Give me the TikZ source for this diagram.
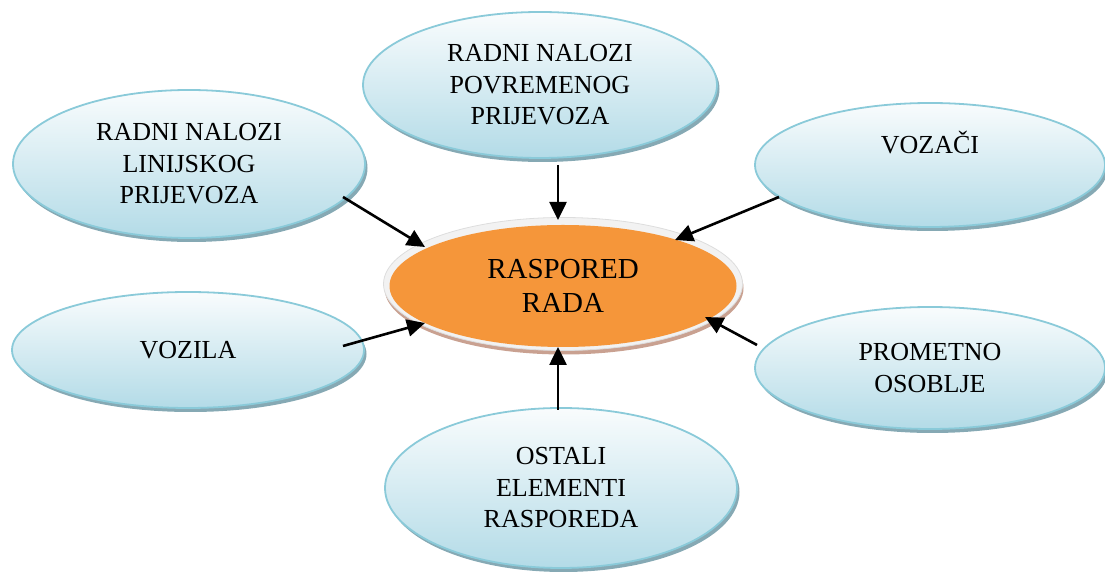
\documentclass[tikz,border=0pt]{standalone}
\usepackage{fontspec}
\setmainfont{Liberation Serif}
\usetikzlibrary{arrows.meta,calc,shapes.geometric,shadows}
\definecolor{outTop}{HTML}{F9FCFD}
\definecolor{outBot}{HTML}{B3DBE7}
\definecolor{outEdge}{HTML}{8ACAD9}
\definecolor{outShadow}{HTML}{86A9B4}
\definecolor{orangeFill}{HTML}{F5963A}
\definecolor{ringFill}{HTML}{F2F2F2}
\definecolor{ringEdge}{HTML}{DDDDDD}
\definecolor{brownShadow}{HTML}{C9A191}
\tikzset{
  outer/.style={ellipse, inner sep=0pt, align=center, line width=1.8pt,
    draw=outEdge, top color=outTop, bottom color=outBot,
    drop shadow={shadow xshift=2.5pt, shadow yshift=-4pt, fill=outShadow, opacity=1},
    font=\fontsize{26}{31.5}\selectfont},
  arr/.style={line width=2.6pt, -{Triangle[length=18pt,width=17pt]}},
}
\begin{document}
\begin{tikzpicture}[x=1pt,y=1pt]
\useasboundingbox (0,0) rectangle (1105,572);
% center element
\node[ellipse, minimum width=359pt, minimum height=133pt, fill=brownShadow] (ctrshadow) at (564,284) {};
\node[ellipse, minimum width=359pt, minimum height=133pt, fill=ringFill, draw=ringEdge, line width=0.8pt] (ctrring) at (563,288) {};
\node[ellipse, minimum width=347pt, minimum height=122pt, inner sep=0pt, fill=orangeFill, align=center,
  font=\fontsize{29}{34}\selectfont] (ctr) at (563,286) {RASPORED\\RADA};
% outer elements
\node[outer, minimum width=352pt, minimum height=148pt] (lin) at (189,408) {RADNI NALOZI\\LINIJSKOG\\PRIJEVOZA};
\node[outer, minimum width=354pt, minimum height=146pt] (pov) at (540,487) {RADNI NALOZI\\POVREMENOG\\PRIJEVOZA};
\node[outer, minimum width=350pt, minimum height=124pt] (voz) at (930,407) {\raisebox{11pt}[0pt][0pt]{VOZAČI}};
\node[outer, minimum width=352pt, minimum height=116pt] (vozila) at (188,222) {VOZILA};
\node[outer, minimum width=350pt, minimum height=122pt] (prom) at (930,204) {PROMETNO\\OSOBLJE};
\node[outer, minimum width=352pt, minimum height=160pt] (ost) at (561,84) {OSTALI\\ELEMENTI\\RASPOREDA};
% connectors
\draw[arr] ($(lin)+(154,-33)$) -- ($(ctr)+(-138,39)$);
\draw[arr] ($(pov)+(18,-80)$) -- ($(ctr)+(-5,66)$);
\draw[arr] ($(voz)+(-151,-32)$) -- ($(ctr)+(112,46)$);
\draw[arr] ($(vozila)+(155,4)$) -- ($(ctr)+(-138,-37)$);
\draw[arr] ($(prom)+(-173,23)$) -- ($(ctr)+(142,-31)$);
\draw[arr] ($(ost)+(-3,78)$) -- ($(ctr)+(-5,-61)$);
\end{tikzpicture}
\end{document}
